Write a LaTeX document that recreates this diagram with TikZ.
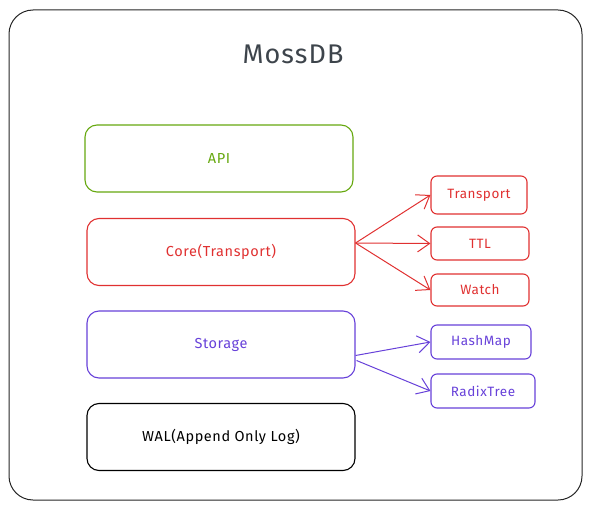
\documentclass[tikz,border=0pt]{standalone}
\usepackage{fontspec}
\setmainfont{Fira Sans}[LetterSpace=4]
\usetikzlibrary{arrows.meta,calc}
\definecolor{cgreen}{HTML}{66A80F}
\definecolor{cred}{HTML}{E03131}
\definecolor{cpurple}{HTML}{6741D9}
\definecolor{ctitle}{HTML}{3D444B}
\tikzset{
  bigbox/.style={draw,line width=1.1pt,rounded corners=12pt,minimum width=268pt,minimum height=67pt,inner sep=0pt,font=\fontsize{14.5}{17}\selectfont},
  smallbox/.style={draw,line width=1.1pt,rounded corners=6pt,inner sep=0pt,font=\fontsize{13.5}{16}\selectfont},
  arr/.style={line width=1pt,-{Straight Barb[length=12pt,width=17pt]}}
}
\begin{document}
\begin{tikzpicture}[x=1pt,y=-1pt]
\useasboundingbox (0,0) rectangle (589,508);
\draw[line width=1pt,rounded corners=24pt,draw=black!85] (9,10) rectangle (582,500);
\node[text=ctitle,font=\fontsize{27}{32}\selectfont] (title) at (293,54) {MossDB};
\node[bigbox,draw=cgreen,text=cgreen] (api) at (219,158.5) {API};
\node[bigbox,draw=cred,text=cred] (core) at (221,252) {Core(Transport)};
\node[bigbox,draw=cpurple,text=cpurple] (sto) at (221,344.5) {Storage};
\node[bigbox,draw=black,text=black] (wal) at (221,437) {WAL(Append Only Log)};
\node[smallbox,draw=cred,text=cred,minimum width=96pt,minimum height=38pt] (tr) at (479,195) {Transport};
\node[smallbox,draw=cred,text=cred,minimum width=98pt,minimum height=33pt] (ttl) at (480,243.5) {TTL};
\node[smallbox,draw=cred,text=cred,minimum width=98pt,minimum height=32pt] (wat) at (480,290) {Watch};
\node[smallbox,draw=cpurple,text=cpurple,minimum width=100pt,minimum height=34pt] (hm) at (481,342) {HashMap};
\node[smallbox,draw=cpurple,text=cpurple,minimum width=104pt,minimum height=34pt] (rt) at (483,391) {RadixTree};
\coordinate (cs) at ($(core.east)+(0,-9)$);
\draw[arr,cred] (cs) -- (tr.west);
\draw[arr,cred] (cs) -- (ttl.west);
\draw[arr,cred] (cs) -- (wat.west);
\draw[arr,cpurple] ($(sto.east)+(0,11)$) -- (hm.west);
\draw[arr,cpurple] ($(sto.east)+(1,16)$) -- (rt.west);
\end{tikzpicture}
\end{document}
